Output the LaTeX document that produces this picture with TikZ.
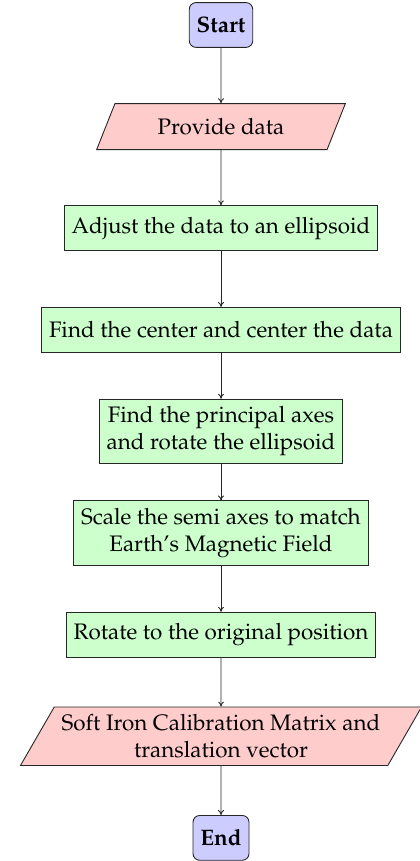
\documentclass[tikz,border=0pt]{standalone}
\usepackage[T1]{fontenc}
\usepackage{mathpazo}
\usetikzlibrary{shapes.geometric,arrows.meta}
\begin{document}
\begin{tikzpicture}[
  term/.style={draw=black!85, rounded corners=3pt, fill=blue!20, minimum height=20pt, inner sep=0.3333em, font=\bfseries},
  io/.style={draw=black!85, trapezium, trapezium left angle=60, trapezium right angle=120, trapezium stretches body=true, fill=red!20, align=center, inner sep=0.3333em},
  proc/.style={draw=black!85, rectangle, fill=green!20, minimum height=20pt, align=center, inner sep=0.3333em},
  arr/.style={-{To[length=2.2pt,width=2.6pt]}, black!85}
]
\useasboundingbox (-98.66pt,11.16pt) rectangle (88.83pt,-373.2pt);
\node[term] (start) at (0pt,0pt) {Start};
\node[io, minimum width=111pt, minimum height=20.5pt] (data) at (0pt,-45.36pt) {Provide data};
\node[proc] (adjust) at (0pt,-90.72pt) {Adjust the data to an ellipsoid};
\node[proc] (center) at (0pt,-136.08pt) {Find the center and center the data};
\node[proc] (axes) at (0pt,-181.44pt) {Find the principal axes\\and rotate the ellipsoid};
\node[proc] (scale) at (0pt,-226.8pt) {Scale the semi axes to match\\Earth's Magnetic Field};
\node[proc] (rotate) at (0pt,-272.16pt) {Rotate to the original position};
\node[io] (soft) at (0pt,-317.52pt) {Soft Iron Calibration Matrix and\\translation vector};
\node[term] (end) at (0pt,-362.88pt) {End};
\draw[arr] (start) -- (data);
\draw[arr] (data) -- (adjust);
\draw[arr] (adjust) -- (center);
\draw[arr] (center) -- (axes);
\draw[arr] (axes) -- (scale);
\draw[arr] (scale) -- (rotate);
\draw[arr] (rotate) -- (soft);
\draw[arr] (soft) -- (end);
\end{tikzpicture}
\end{document}
